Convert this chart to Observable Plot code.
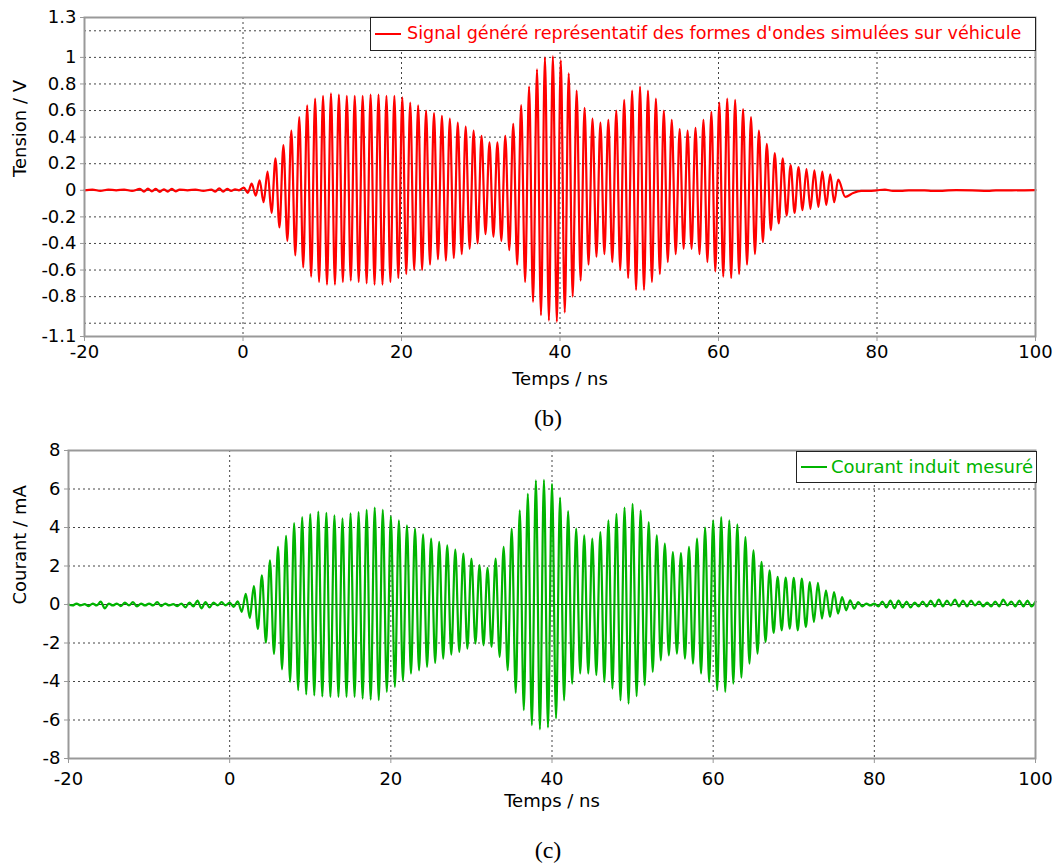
<!DOCTYPE html>
<html>
<head>
<meta charset="utf-8">
<script src="https://cdn.jsdelivr.net/npm/d3@7"></script>
<script src="https://cdn.jsdelivr.net/npm/@observablehq/plot@0.6"></script>
<style>
  body { margin: 0; background: #fff; }
  #wrap { position: relative; width: 1056px; height: 866px; overflow: hidden; font-family: "DejaVu Sans", sans-serif; }
  .panel { position: absolute; left: 0; }
  .legend { position: absolute; box-sizing: border-box; border: 1.5px solid #222; background: #fff; }
  .legend .sw { position: absolute; left: 4px; top: 50%; width: 26px; height: 2px; margin-top: -1px; }
  .legend .lt { position: absolute; top: 50%; transform: translateY(-50%); white-space: nowrap; line-height: 1; }
  .cap { position: absolute; transform: translateX(-50%); font-family: "Liberation Serif", "Times New Roman", serif; font-size: 24px; line-height: 26px; }
</style>
</head>
<body>
<div id="wrap"></div>
<script>
// ---------- axes / ticks ----------
const xTicks = [-20, 0, 20, 40, 60, 80, 100];
const xGrid = [0, 20, 40, 60, 80];
const tensionTicks = [1.3, 1, 0.8, 0.6, 0.4, 0.2, 0, -0.2, -0.4, -0.6, -0.8, -1.1];
const tensionGrid = [1.2, 1, 0.8, 0.6, 0.4, 0.2, -0.2, -0.4, -0.6, -0.8, -1];
const courantTicks = [8, 6, 4, 2, 0, -2, -4, -6, -8];
const courantGrid = [6, 4, 2, -2, -4, -6];

// ---------- (b) signal généré : tension / V ----------
const redPreTime = [-20,-19,-18,-17,-16,-15,-14,-13,-12.5,-12,-11.5,-11,-10.5,-10,-9.5,-9,-8.5,-8,-7,-6,-5,-4,-3.5,-3,-2.5,-2,-1.5,-1,-0.5];
const redPreVolt = [0,0.005,-0.005,0.005,0,0.005,-0.005,0.01,-0.01,0.012,-0.008,0.01,-0.012,0.008,-0.01,0.01,-0.008,0.005,0,0.005,-0.005,0.005,-0.01,0.015,-0.01,0.01,-0.005,0.008,0];

const redPeakTime = [0.1,1.1,2.1,3.1,4.1,5.1,6.1,7.1,8.1,9.1,10.1,11.1,12.1,13.1,14.1,15.1,16.1,17.1,18.1,19.1,20.1,21.1,22.1,23.1,24.1,25.1,26.1,27.1,28.1,29.1,30.1,31.1,32.1,33.1,34.1,35.1,36.1,37.1,38.1,39.1,40.1,41.1,42.1,43.1,44.1,45.1,46.1,47.1,48.1,49.1,50.1,51.1,52.1,53.1,54.1,55.1,56.1,57.1,58.1,59.1,60.1,61.1,62.1,63.1,64.1,65.1,66.1,67.1,68.1,69.1,70.1,71.1,72.1,73.1,74.1,75.1];
const redPeakVolt = [0.02,0.05,0.075,0.14,0.24,0.34,0.45,0.55,0.64,0.69,
  0.71,0.73,0.72,0.71,0.71,0.71,0.72,0.72,0.71,0.71,
  0.70,0.66,0.64,0.60,0.58,0.56,0.54,0.51,0.48,0.45,
  0.41,0.36,0.36,0.41,0.50,0.64,0.78,0.91,1.00,1.01,
  0.98,0.88,0.75,0.62,0.54,0.51,0.53,0.60,0.68,0.75,
  0.78,0.75,0.69,0.60,0.53,0.46,0.45,0.47,0.53,0.59,
  0.66,0.69,0.68,0.61,0.55,0.45,0.35,0.28,0.24,0.19,
  0.175,0.16,0.15,0.14,0.12,0.08];
const redTroughTime = [0.6,1.6,2.6,3.6,4.6,5.6,6.6,7.6,8.6,9.6,10.6,11.6,12.6,13.6,14.6,15.6,16.6,17.6,18.6,19.6,20.6,21.6,22.6,23.6,24.6,25.6,26.6,27.6,28.6,29.6,30.6,31.6,32.6,33.6,34.6,35.6,36.6,37.6,38.6,39.6,40.6,41.6,42.6,43.6,44.6,45.6,46.6,47.6,48.6,49.6,50.6,51.6,52.6,53.6,54.6,55.6,56.6,57.6,58.6,59.6,60.6,61.6,62.6,63.6,64.6,65.6,66.6,67.6,68.6,69.6,70.6,71.6,72.6,73.6,74.6];
const redTroughVolt = [-0.02,-0.04,-0.09,-0.17,-0.28,-0.38,-0.49,-0.58,-0.65,-0.69,
  -0.71,-0.71,-0.69,-0.68,-0.69,-0.70,-0.71,-0.71,-0.69,-0.66,
  -0.63,-0.60,-0.60,-0.56,-0.52,-0.53,-0.51,-0.48,-0.44,-0.40,
  -0.33,-0.35,-0.38,-0.45,-0.56,-0.69,-0.84,-0.94,-0.98,-0.99,
  -0.92,-0.80,-0.68,-0.56,-0.50,-0.48,-0.54,-0.60,-0.66,-0.75,
  -0.75,-0.69,-0.63,-0.54,-0.48,-0.44,-0.44,-0.48,-0.54,-0.61,
  -0.65,-0.66,-0.63,-0.56,-0.48,-0.39,-0.30,-0.25,-0.19,-0.17,
  -0.15,-0.14,-0.125,-0.11,-0.09];
const redPostTime = [76,77,78,79,80,81,82,83,84,85,86,87,88,89,90,92,94,95,97,100];
const redPostVolt = [-0.05,-0.02,-0.005,-0.005,0,0.005,-0.005,-0.005,0,0,0,-0.005,-0.005,0,0.002,0,-0.005,0,0,0.002];

// ---------- (c) courant induit mesuré : courant / mA ----------
const greenPreTime = [-20,-19.5,-19,-18.5,-18,-17.5,-17,-16.5,-16,-15.5,-15,-14.5,-14,-13.5,-13,-12.5,-12,-11.5,-11,-10.5,-10,-9.5,-9,-8.5,-8,-7.5,-7,-6.5,-6,-5.5,-5,-4.5,-4,-3.5,-3,-2.5,-2,-1.5,-1,-0.5];
const greenPreCur = [0,-0.05,0.05,-0.05,0.02,-0.08,0.05,-0.05,0.15,-0.2,0.05,-0.05,0.05,-0.08,0.1,-0.05,0.12,-0.1,0.05,-0.05,0.05,-0.05,0.12,-0.08,0.05,-0.05,0.02,-0.08,0.05,-0.15,0.1,-0.1,0.2,-0.2,0.12,-0.15,0.1,-0.05,0.12,-0.05];

const greenPeakTime = [0,1,2,3,4,5,6,7,8,9,10,11,12,13,14,15,16,17,18,19,20,21,22,23,24,25,26,27,28,29,30,31,32,33,34,35,36,37,38,39,40,41,42,43,44,45,46,47,48,49,50,51,52,53,54,55,56,57,58,59,60,61,62,63,64,65,66,67,68,69,70,71,72,73,74,75,76,77];
const greenPeakCur = [0.1,0.17,0.55,0.95,1.52,2.3,3.0,3.57,4.23,4.54,
  4.70,4.82,4.76,4.63,4.47,4.73,4.80,4.92,5.03,4.92,
  4.58,4.37,4.11,3.94,3.64,3.42,3.25,3.07,2.85,2.64,
  2.38,2.05,1.9,2.38,2.99,3.94,4.89,5.75,6.45,6.48,
  6.27,5.55,4.85,3.94,3.59,3.42,3.76,4.37,4.71,5.03,
  5.23,4.89,4.28,3.59,3.16,2.72,2.67,2.99,3.42,3.99,
  4.37,4.54,4.37,4.16,3.50,2.81,2.21,1.78,1.43,1.40,
  1.38,1.34,1.17,1.12,0.74,0.65,0.39,0.22];
const greenTroughTime = [0.5,1.5,2.5,3.5,4.5,5.5,6.5,7.5,8.5,9.5,10.5,11.5,12.5,13.5,14.5,15.5,16.5,17.5,18.5,19.5,20.5,21.5,22.5,23.5,24.5,25.5,26.5,27.5,28.5,29.5,30.5,31.5,32.5,33.5,34.5,35.5,36.5,37.5,38.5,39.5,40.5,41.5,42.5,43.5,44.5,45.5,46.5,47.5,48.5,49.5,50.5,51.5,52.5,53.5,54.5,55.5,56.5,57.5,58.5,59.5,60.5,61.5,62.5,63.5,64.5,65.5,66.5,67.5,68.5,69.5,70.5,71.5,72.5,73.5,74.5,75.5,76.5,77.5];
const greenTroughCur = [-0.12,-0.38,-0.7,-1.27,-1.98,-2.57,-3.37,-4.01,-4.45,-4.67,
  -4.72,-4.78,-4.8,-4.8,-4.8,-4.8,-4.89,-4.94,-4.97,-4.54,
  -4.28,-3.97,-3.59,-3.42,-3.24,-3.03,-2.81,-2.6,-2.46,-2.29,
  -2.03,-2.12,-2.2,-2.72,-3.42,-4.59,-5.49,-6.27,-6.49,-6.39,
  -5.92,-4.98,-4.11,-3.59,-3.59,-3.67,-4.02,-4.37,-4.98,-5.15,
  -4.76,-4.19,-3.50,-2.90,-2.64,-2.55,-2.81,-3.07,-3.59,-4.02,
  -4.45,-4.54,-4.11,-3.8,-3.07,-2.55,-1.95,-1.48,-1.34,-1.25,
  -1.34,-1.17,-0.91,-0.73,-0.65,-0.47,-0.30,-0.22];
const greenPostTime = [78,78.5,79,79.5,80,80.5,81,81.5,82,82.5,83,83.5,84,84.5,85,85.5,86,86.5,87,87.5,88,88.5,89,89.5,90,90.5,91,91.5,92,92.5,93,93.5,94,94.5,95,95.5,96,96.5,97,97.5,98,98.5,99,99.5,100];
const greenPostCur = [0.13,-0.1,0.05,-0.05,0.05,-0.1,0.15,-0.15,0.2,-0.2,0.2,-0.15,0.15,-0.15,0.1,-0.1,0.15,-0.1,0.2,-0.1,0.25,-0.1,0.2,-0.05,0.25,-0.1,0.2,-0.1,0.2,-0.05,0.15,-0.1,0.1,-0.1,0.15,-0.1,0.25,-0.05,0.15,-0.1,0.2,-0.1,0.2,-0.1,0.15];

// ---------- build tables ----------
function table(pairs) {
  const rows = [];
  for (const [ts, vs] of pairs) ts.forEach((t, i) => rows.push({t, v: vs[i]}));
  return rows.sort((a, b) => a.t - b.t);
}
const redData = table([[redPreTime, redPreVolt], [redPeakTime, redPeakVolt], [redTroughTime, redTroughVolt], [redPostTime, redPostVolt]]);
const greenData = table([[greenPreTime, greenPreCur], [greenPeakTime, greenPeakCur], [greenTroughTime, greenTroughCur], [greenPostTime, greenPostCur]]);

const FONT = "DejaVu Sans, sans-serif";
const fmt = d => String(d);

function panel({data, color, yDomain, yTicks, yGrid, yLabel, height, mTop, mBottom, mLeft, labelDx, xPad, xLabelDy}) {
  return Plot.plot({
    width: 1056,
    height,
    marginTop: mTop,
    marginBottom: mBottom,
    marginLeft: mLeft,
    marginRight: 21,
    style: {fontFamily: FONT, fontSize: "18px", color: "#000", background: "transparent", overflow: "visible"},
    x: {domain: [-20, 100]},
    y: {domain: yDomain},
    marks: [
      Plot.gridY(yGrid, {stroke: "#444", strokeOpacity: 1, strokeDasharray: "2,3", strokeWidth: 1}),
      Plot.gridX(xGrid, {stroke: "#444", strokeOpacity: 1, strokeDasharray: "2,3", strokeWidth: 1}),
      Plot.ruleY([0], {stroke: "#333", strokeWidth: 1}),
      Plot.line(data, {x: "t", y: "v", stroke: color, strokeWidth: 2.2, curve: "monotone-x"}),
      Plot.frame({stroke: "#999", strokeWidth: 2}),
      Plot.axisX(xTicks, {tickFormat: fmt, tickSize: 5, tickPadding: xPad, fontSize: 18, label: null, stroke: "#999"}),
      Plot.axisY(yTicks, {tickFormat: fmt, tickSize: 4, tickPadding: 4, fontSize: 18, label: null, stroke: "#999"}),
      Plot.text(["Temps / ns"], {frameAnchor: "bottom", dy: xLabelDy, fontSize: 18}),
      Plot.text([yLabel], {frameAnchor: "left", dx: labelDx, rotate: -90, fontSize: 18})
    ]
  });
}

const wrap = document.getElementById("wrap");

const topPanel = panel({data: redData, color: "#ff0000", yDomain: [-1.1, 1.3], yTicks: tensionTicks, yGrid: tensionGrid,
  yLabel: "Tension / V", height: 400, mTop: 17, mBottom: 64, mLeft: 84, labelDx: -64, xPad: 4, xLabelDy: 48});
topPanel.classList.add("panel"); topPanel.style.top = "0px";
wrap.appendChild(topPanel);

const bottomPanel = panel({data: greenData, color: "#00b400", yDomain: [-8, 8], yTicks: courantTicks, yGrid: courantGrid,
  yLabel: "Courant / mA", height: 395, mTop: 20, mBottom: 67, mLeft: 68, labelDx: -48, xPad: 9, xLabelDy: 48});
bottomPanel.classList.add("panel"); bottomPanel.style.top = "430px";
wrap.appendChild(bottomPanel);

function legend(left, topPx, width, heightPx, color, label, textLeft, size) {
  const d = document.createElement("div");
  d.className = "legend";
  Object.assign(d.style, {left: left + "px", top: topPx + "px", width: width + "px", height: heightPx + "px"});
  const sw = document.createElement("div"); sw.className = "sw"; sw.style.background = color;
  const lt = document.createElement("div"); lt.className = "lt"; lt.style.color = color; lt.style.left = textLeft + "px";
  lt.style.fontSize = size + "px";
  lt.textContent = label;
  d.appendChild(sw); d.appendChild(lt);
  wrap.appendChild(d);
}
legend(370, 17, 666, 34, "#ff0000", "Signal généré représentatif des formes d'ondes simulées sur véhicule", 36, 17.6);
legend(796, 451, 241, 32, "#00b400", "Courant induit mesuré", 34, 18);

function caption(text, x, y) {
  const c = document.createElement("div");
  c.className = "cap"; c.textContent = text;
  c.style.left = x + "px"; c.style.top = y + "px";
  wrap.appendChild(c);
}
caption("(b)", 548, 405);
caption("(c)", 548, 837);
</script>
</body>
</html>
